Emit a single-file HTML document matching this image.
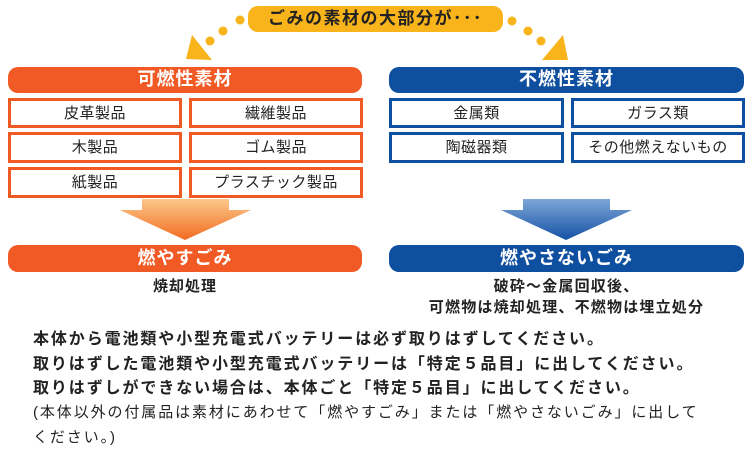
<!DOCTYPE html>
<html><head><meta charset="utf-8"><style>
body{margin:0;width:753px;height:457px;background:#fff;position:relative;overflow:hidden;font-family:"Liberation Sans","Noto Sans CJK JP",sans-serif;}
.a{position:absolute;box-sizing:border-box;}
.bar{border-radius:10px;color:#fff;font-weight:bold;font-size:18px;text-align:center;line-height:25px;letter-spacing:1px;}
.or{background:#f15a24}.bl{background:#0f4fa0}
.box{background:#fff;border:3px solid;font-size:15px;text-align:center;color:#222;line-height:25px;letter-spacing:0.5px;}
.ob{border-color:#f15a24}.bb{border-color:#0f4fa0}
.t{position:absolute;white-space:nowrap;color:#222;}
</style></head><body>
<svg class="a" style="left:0;top:0" width="753" height="457">
<defs>
<linearGradient id="go" x1="0" y1="0" x2="0" y2="1"><stop offset="0" stop-color="#fcc88a"/><stop offset="1" stop-color="#f26b21"/></linearGradient>
<linearGradient id="gb" x1="0" y1="0" x2="0" y2="1"><stop offset="0" stop-color="#7ea5d8"/><stop offset="1" stop-color="#1452a3"/></linearGradient>
</defs>
<g fill="#f9b31b">
<circle cx="240" cy="20" r="4.5"/><circle cx="223" cy="31" r="4.5"/><circle cx="210" cy="41" r="4.5"/>
<polygon points="192,35 186,59 212,60"/>
<circle cx="512" cy="21" r="4.5"/><circle cx="528" cy="31" r="4.5"/><circle cx="541" cy="41" r="4.5"/>
<polygon points="563,35 568,60 542,60"/>
</g>
<polygon points="142,199 229,199 229,210 251,210 185,240 120,210 142,210" fill="url(#go)"/>
<polygon points="523,199 610,199 610,210 632,210 566,240 501,210 523,210" fill="url(#gb)"/>
</svg>
<div class="a" style="top:6px;left:248px;width:255px;height:26px;background:#f9b31b;border-radius:10px;font-weight:bold;font-size:17px;letter-spacing:1.5px;text-align:center;line-height:26px;color:#222">ごみの素材の大部分が･･･</div>
<div class="a bar or" style="left:8px;top:67px;width:354px;height:26px">可燃性素材</div>
<div class="a bar bl" style="left:389px;top:67px;width:355px;height:26px">不燃性素材</div>
<div class="a box ob" style="left:8px;top:98px;width:174px;height:30px">皮革製品</div>
<div class="a box ob" style="left:189px;top:98px;width:174px;height:30px">繊維製品</div>
<div class="a box ob" style="left:8px;top:132px;width:174px;height:31px">木製品</div>
<div class="a box ob" style="left:189px;top:132px;width:174px;height:31px">ゴム製品</div>
<div class="a box ob" style="left:8px;top:167px;width:174px;height:31px">紙製品</div>
<div class="a box ob" style="left:189px;top:167px;width:174px;height:31px">プラスチック製品</div>
<div class="a box bb" style="left:389px;top:98px;width:175px;height:30px">金属類</div>
<div class="a box bb" style="left:571px;top:98px;width:174px;height:30px">ガラス類</div>
<div class="a box bb" style="left:389px;top:132px;width:175px;height:31px">陶磁器類</div>
<div class="a box bb" style="left:571px;top:132px;width:174px;height:31px">その他燃えないもの</div>
<div class="a bar or" style="left:8px;top:245px;width:354px;height:27px;line-height:27px">燃やすごみ</div>
<div class="a bar bl" style="left:389px;top:245px;width:355px;height:27px;line-height:27px">燃やさないごみ</div>
<div class="t" style="left:0;width:370px;text-align:center;top:275px;font-size:15px;font-weight:bold;letter-spacing:1px">焼却処理</div>
<div class="t" style="left:380px;width:373px;text-align:center;top:276px;font-size:15px;font-weight:bold;line-height:21px;letter-spacing:1.2px">破砕～金属回収後、<br>可燃物は焼却処理、不燃物は埋立処分</div>
<div class="t" style="left:33px;top:328px;font-size:16px;font-weight:bold;line-height:24.5px;letter-spacing:1.9px">本体から電池類や小型充電式バッテリーは必ず取りはずしてください。<br>取りはずした電池類や小型充電式バッテリーは「特定５品目」に出してください。<br>取りはずしができない場合は、本体ごと「特定５品目」に出してください。</div>
<div class="t" style="left:33px;top:401px;font-size:15px;line-height:24.5px;letter-spacing:1.9px">(本体以外の付属品は素材にあわせて「燃やすごみ」または「燃やさないごみ」に出して<br>ください。)</div>
</body></html>
